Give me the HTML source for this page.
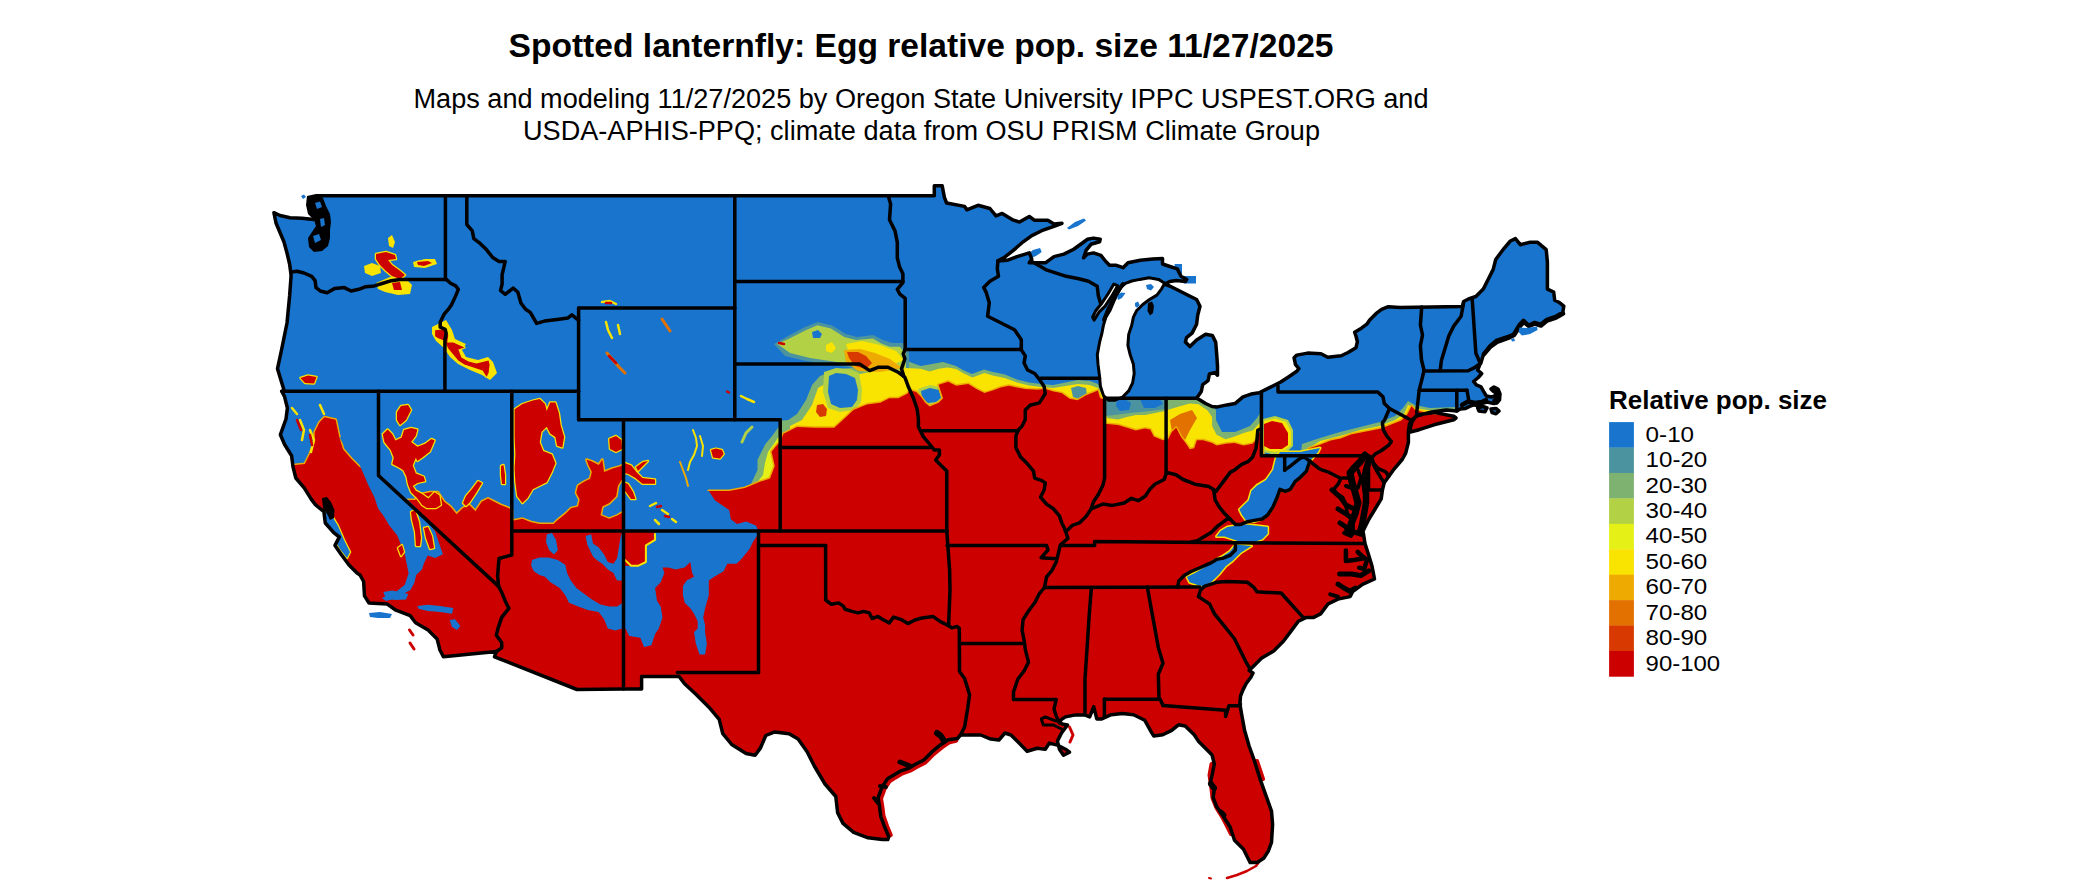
<!DOCTYPE html>
<html><head><meta charset="utf-8"><title>Spotted lanternfly</title>
<style>html,body{margin:0;padding:0;background:#fff;}svg{display:block;}</style>
</head><body>
<svg width="2100" height="892" viewBox="0 0 2100 892">
<rect width="2100" height="892" fill="#fff"/>
<text x="921" y="56.9" text-anchor="middle" font-family="'Liberation Sans', sans-serif" font-weight="bold" font-size="33" textLength="825" lengthAdjust="spacingAndGlyphs">Spotted lanternfly: Egg relative pop. size 11/27/2025</text>
<text x="921" y="108.1" text-anchor="middle" font-family="'Liberation Sans', sans-serif" font-size="27" textLength="1015" lengthAdjust="spacingAndGlyphs">Maps and modeling 11/27/2025 by Oregon State University IPPC USPEST.ORG and</text>
<text x="921.5" y="139.8" text-anchor="middle" font-family="'Liberation Sans', sans-serif" font-size="27" textLength="797" lengthAdjust="spacingAndGlyphs">USDA-APHIS-PPQ; climate data from OSU PRISM Climate Group</text>
<text x="1609" y="409" font-family="'Liberation Sans', sans-serif" font-weight="bold" font-size="26" textLength="218" lengthAdjust="spacingAndGlyphs">Relative pop. size</text>
<rect x="1609.1" y="422.10" width="24.8" height="25.73" fill="#1874cd"/>
<text x="1645.6" y="441.6" font-family="'Liberation Sans', sans-serif" font-size="21.3" textLength="48.5" lengthAdjust="spacingAndGlyphs">0-10</text>
<rect x="1609.1" y="447.53" width="24.8" height="25.73" fill="#4b939f"/>
<text x="1645.6" y="467.0" font-family="'Liberation Sans', sans-serif" font-size="21.3" textLength="61.7" lengthAdjust="spacingAndGlyphs">10-20</text>
<rect x="1609.1" y="472.96" width="24.8" height="25.73" fill="#7db271"/>
<text x="1645.6" y="492.5" font-family="'Liberation Sans', sans-serif" font-size="21.3" textLength="61.7" lengthAdjust="spacingAndGlyphs">20-30</text>
<rect x="1609.1" y="498.39" width="24.8" height="25.73" fill="#b2d144"/>
<text x="1645.6" y="517.9" font-family="'Liberation Sans', sans-serif" font-size="21.3" textLength="61.7" lengthAdjust="spacingAndGlyphs">30-40</text>
<rect x="1609.1" y="523.82" width="24.8" height="25.73" fill="#e5f017"/>
<text x="1645.6" y="543.3" font-family="'Liberation Sans', sans-serif" font-size="21.3" textLength="61.7" lengthAdjust="spacingAndGlyphs">40-50</text>
<rect x="1609.1" y="549.25" width="24.8" height="25.73" fill="#f9e300"/>
<text x="1645.6" y="568.8" font-family="'Liberation Sans', sans-serif" font-size="21.3" textLength="61.7" lengthAdjust="spacingAndGlyphs">50-60</text>
<rect x="1609.1" y="574.68" width="24.8" height="25.73" fill="#eeaa00"/>
<text x="1645.6" y="594.2" font-family="'Liberation Sans', sans-serif" font-size="21.3" textLength="61.7" lengthAdjust="spacingAndGlyphs">60-70</text>
<rect x="1609.1" y="600.11" width="24.8" height="25.73" fill="#e37100"/>
<text x="1645.6" y="619.6" font-family="'Liberation Sans', sans-serif" font-size="21.3" textLength="61.7" lengthAdjust="spacingAndGlyphs">70-80</text>
<rect x="1609.1" y="625.54" width="24.8" height="25.73" fill="#d83900"/>
<text x="1645.6" y="645.0" font-family="'Liberation Sans', sans-serif" font-size="21.3" textLength="61.7" lengthAdjust="spacingAndGlyphs">80-90</text>
<rect x="1609.1" y="650.97" width="24.8" height="25.73" fill="#cd0000"/>
<text x="1645.6" y="670.5" font-family="'Liberation Sans', sans-serif" font-size="21.3" textLength="74.5" lengthAdjust="spacingAndGlyphs">90-100</text>
<defs><clipPath id="land"><path d="M316.5,195.7 L934.3,195.7 L934.3,185.8 L942.2,185.8 L944.4,197.4 L946.6,203 L964.6,206.4 L966.8,209.8 L978,205.3 L989.9,208.5 L996,215.9 L1002.2,213.4 L1012.1,219.6 L1019.5,222.1 L1029.3,216.5 L1034.3,220.2 L1047.8,220.2 L1054,223.9 L1062,223.3 L1054,226.4 L1041.7,230.7 L1031.8,235.6 L1023.2,241.8 L1013.3,250.4 L1004.7,257.2 L997.9,260.9 L1007.1,260.3 L1017,256.6 L1029.3,252.9 L1031.8,259.1 L1029.3,262.8 L1036.7,262.8 L1045.4,262.8 L1054,256.6 L1063.9,254.1 L1073.7,249.2 L1082.4,243 L1087.3,239.3 L1093.5,238.1 L1100.2,239.3 L1099.6,241.8 L1091,244.3 L1086.1,250.4 L1083.6,257.8 L1087.3,254.1 L1093.5,252.9 L1100.9,255.4 L1105.8,261.5 L1109.5,265.2 L1115.7,265.2 L1123.1,267.7 L1128,262.8 L1140.3,260.3 L1152.6,259.1 L1162.5,258.4 L1162.5,264 L1169.9,266.5 L1177.3,268.9 L1181,276.3 L1186.7,279.5 L1185.4,281.5 L1176.4,280.4 L1169.7,281.5 L1164.5,284 L1169.7,286 L1178.7,290.5 L1187.6,295 L1196.6,299.5 L1200,306.2 L1197.7,315.2 L1196.6,324.2 L1192.1,333.1 L1186.5,337.6 L1185.4,342.1 L1189.9,346.6 L1196.6,339.9 L1205.6,334.3 L1212.3,335.4 L1215.7,342.1 L1216.8,355.6 L1217.5,366 L1217.5,375.3 L1214.8,372.6 L1209.4,374 L1208.1,380.7 L1202.7,384.7 L1201.3,391.5 L1196.6,398.2 L1200,400 L1205.6,403.5 L1212,406.5 L1217.5,406.9 L1226.9,404.9 L1235,403.6 L1243,396.8 L1251.1,394.1 L1259.2,392.8 L1270,387.4 L1280.7,382 L1288.8,376.7 L1296.8,371.3 L1298.9,368.6 L1295.5,364.6 L1294.1,357.8 L1296.8,355.1 L1307.6,353.1 L1321,353.8 L1327.8,357.2 L1341.2,355.8 L1348,352.5 L1356,347.7 L1357.4,341.7 L1356,336.3 L1354.7,332.3 L1361.4,328.2 L1366.8,324.2 L1369.5,320.2 L1376.2,313.4 L1381.6,309.4 L1388.3,306.7 L1400,307.4 L1462.4,306.4 L1463.6,301.5 L1468.5,299 L1475.9,296.5 L1483.3,289.1 L1489.5,276.8 L1493.2,269.4 L1495.7,259.5 L1503,249.7 L1510.4,241 L1515.4,238.6 L1520.3,244.7 L1530.2,242.3 L1537.6,242.3 L1546.2,249.7 L1547.4,262 L1547.4,289.1 L1553.7,292.1 L1554.7,300.2 L1558.8,302.2 L1563.8,306.2 L1562.8,312.3 L1555.7,316.3 L1546.7,319.3 L1540.6,324.4 L1534.6,322.4 L1528.5,325.4 L1523.5,320.3 L1519.4,324.4 L1513.4,334.5 L1508.3,336.5 L1496.2,340.5 L1490.2,345.6 L1483.1,355.6 L1480.9,363.1 L1480.3,363.4 L1477.7,370.1 L1481.7,373.5 L1478.3,377.5 L1473.6,381.5 L1476.3,384.9 L1481,386.9 L1483.7,391.6 L1486.4,396 L1491.1,397 L1495,396 L1496,393 L1493,391 L1491,389 L1494,387 L1498,389 L1500,394 L1499.5,400 L1497,403 L1493.8,403.5 L1487.1,402 L1481.7,403.5 L1477.7,405.7 L1473.6,404.8 L1469.6,406.4 L1465.6,408.4 L1460.2,409.1 L1456.8,411.1 L1446.3,410 L1431.5,412 L1416.7,416 L1411.8,419.8 L1409.4,424.2 L1408.4,431.7 L1408.4,442.4 L1405.7,453.2 L1402.2,459.5 L1397.7,464.8 L1393.2,470.2 L1388.7,476.5 L1384.2,482.8 L1382.4,490 L1381.2,498.9 L1375.1,509 L1369,519 L1365,527.1 L1363,531.2 L1364,537 L1365,543.6 L1368.5,554.5 L1372,566 L1374.5,579 L1362.5,584.3 L1352.6,591.7 L1350.2,596.6 L1337.9,599.1 L1328,604 L1320.6,613.9 L1313.2,617.6 L1305.8,617.6 L1298.4,621.3 L1291,631.1 L1283.6,641 L1273.7,650.9 L1261.4,658.3 L1254,665.7 L1249.1,670.6 L1253,673 L1250.9,677.2 L1246.2,683.5 L1243,689.9 L1240.5,696 L1239.9,704 L1241.5,713.5 L1244.6,730.4 L1249.1,746 L1254.7,761.7 L1260.3,779.7 L1265.9,795.4 L1271.5,811.1 L1272.6,824.5 L1271.5,842.5 L1268.2,851.4 L1263.7,858.2 L1256.9,862.6 L1250.2,862.6 L1248,858.2 L1243.5,849.2 L1239,844.7 L1234.5,840.2 L1230,826.8 L1225.6,820 L1222.2,814.4 L1216.6,806.6 L1213.2,797.6 L1214.3,788.7 L1209.9,784.2 L1212.1,775.2 L1214.3,764 L1212.1,755 L1205.4,748.3 L1198.7,741.6 L1194.2,734.8 L1185.2,725.9 L1178.5,724.8 L1171.7,730.4 L1162.8,734.8 L1153.8,736 L1151.6,732.6 L1144.8,720.3 L1133.6,714.7 L1122.4,713.5 L1111.2,714.7 L1101.8,718.9 L1096.8,718.9 L1093.7,706.8 L1089.7,716.9 L1084.7,714.9 L1075.6,714.9 L1065.5,716.9 L1059.4,720.9 L1062,724 L1067.5,725 L1061.5,733 L1057.4,741.1 L1059.4,749.2 L1063.5,755.2 L1069.5,752.2 L1065.5,749.2 L1057.4,745.1 L1049.3,743.1 L1045.3,749.2 L1037.2,748.2 L1027.1,751.2 L1019.1,743.1 L1011,735 L1004.9,733 L998.9,740.1 L990.8,739.1 L980.7,735 L968.6,735 L960.5,735 L957.5,738.5 L948.1,739.8 L940,745.2 L931.9,751.9 L923.8,760 L915.8,764 L909,768.1 L901,770.8 L894.2,774.8 L887.5,778.8 L882.1,786.9 L878.1,797.7 L879.4,805.8 L880.8,816.5 L884.8,827.3 L888.8,836.7 L887.8,839.6 L882.4,839.6 L868.1,837.8 L853.7,832.4 L843,823.4 L837.6,812.6 L835.8,796.5 L825,784 L814.3,766 L807.1,751.7 L798.1,739.1 L789.1,733.7 L774.8,731.9 L765.8,735.5 L760.4,748.1 L755.1,755.2 L746.1,753.5 L731.7,744.5 L722.8,733.7 L719.2,719.4 L710.2,708.6 L695.9,694.3 L684.6,683.7 L679.2,676.6 L677.4,676.6 L641.6,676.6 L641.6,689 L623.6,689 L577,689.5 L494.5,656.8 L496.3,651.5 L443.4,656.8 L439.8,649.7 L437.1,638.9 L428.1,630 L415.6,622.8 L410.2,615.6 L395.9,610.2 L386.9,603.9 L369,603 L364.5,595.9 L363.6,581.5 L360,575 L357.5,573.4 L349,565 L340.7,553.8 L335,545.4 L339.3,537 L333.7,532.7 L325.3,523 L323.9,511.7 L315.4,504.7 L311.2,499.1 L304.2,487.9 L295.8,478 L293,466.9 L291.6,455.7 L284.6,444.5 L280.4,434.7 L286,419 L287.4,408 L284.6,396.8 L281.8,391.2 L284,390 L281.5,382 L277.5,368.7 L281.5,350 L287,323 L289.6,296 L291,277 L291,274.5 L289.6,264 L287,253 L284,242 L276,223 L273.9,212.7 L280,215.5 L290,217.7 L302,218.3 L313.8,219.5 L316,210ZM1477.7,408 L1483,406.5 L1487,408 L1485,411.8 L1479,411ZM1491,409 L1496,408.4 L1499,411 L1496,413.8 L1492,412.5ZM1411.8,422.3 L1416.7,415 L1434,412.4 L1453.7,416.2 L1456,418 L1453.7,419.8 L1434,424.8 L1419.2,429.7 L1409.3,432.2Z"/></clipPath></defs>
<path d="M316.5,195.7 L934.3,195.7 L934.3,185.8 L942.2,185.8 L944.4,197.4 L946.6,203 L964.6,206.4 L966.8,209.8 L978,205.3 L989.9,208.5 L996,215.9 L1002.2,213.4 L1012.1,219.6 L1019.5,222.1 L1029.3,216.5 L1034.3,220.2 L1047.8,220.2 L1054,223.9 L1062,223.3 L1054,226.4 L1041.7,230.7 L1031.8,235.6 L1023.2,241.8 L1013.3,250.4 L1004.7,257.2 L997.9,260.9 L1007.1,260.3 L1017,256.6 L1029.3,252.9 L1031.8,259.1 L1029.3,262.8 L1036.7,262.8 L1045.4,262.8 L1054,256.6 L1063.9,254.1 L1073.7,249.2 L1082.4,243 L1087.3,239.3 L1093.5,238.1 L1100.2,239.3 L1099.6,241.8 L1091,244.3 L1086.1,250.4 L1083.6,257.8 L1087.3,254.1 L1093.5,252.9 L1100.9,255.4 L1105.8,261.5 L1109.5,265.2 L1115.7,265.2 L1123.1,267.7 L1128,262.8 L1140.3,260.3 L1152.6,259.1 L1162.5,258.4 L1162.5,264 L1169.9,266.5 L1177.3,268.9 L1181,276.3 L1186.7,279.5 L1185.4,281.5 L1176.4,280.4 L1169.7,281.5 L1164.5,284 L1169.7,286 L1178.7,290.5 L1187.6,295 L1196.6,299.5 L1200,306.2 L1197.7,315.2 L1196.6,324.2 L1192.1,333.1 L1186.5,337.6 L1185.4,342.1 L1189.9,346.6 L1196.6,339.9 L1205.6,334.3 L1212.3,335.4 L1215.7,342.1 L1216.8,355.6 L1217.5,366 L1217.5,375.3 L1214.8,372.6 L1209.4,374 L1208.1,380.7 L1202.7,384.7 L1201.3,391.5 L1196.6,398.2 L1200,400 L1205.6,403.5 L1212,406.5 L1217.5,406.9 L1226.9,404.9 L1235,403.6 L1243,396.8 L1251.1,394.1 L1259.2,392.8 L1270,387.4 L1280.7,382 L1288.8,376.7 L1296.8,371.3 L1298.9,368.6 L1295.5,364.6 L1294.1,357.8 L1296.8,355.1 L1307.6,353.1 L1321,353.8 L1327.8,357.2 L1341.2,355.8 L1348,352.5 L1356,347.7 L1357.4,341.7 L1356,336.3 L1354.7,332.3 L1361.4,328.2 L1366.8,324.2 L1369.5,320.2 L1376.2,313.4 L1381.6,309.4 L1388.3,306.7 L1400,307.4 L1462.4,306.4 L1463.6,301.5 L1468.5,299 L1475.9,296.5 L1483.3,289.1 L1489.5,276.8 L1493.2,269.4 L1495.7,259.5 L1503,249.7 L1510.4,241 L1515.4,238.6 L1520.3,244.7 L1530.2,242.3 L1537.6,242.3 L1546.2,249.7 L1547.4,262 L1547.4,289.1 L1553.7,292.1 L1554.7,300.2 L1558.8,302.2 L1563.8,306.2 L1562.8,312.3 L1555.7,316.3 L1546.7,319.3 L1540.6,324.4 L1534.6,322.4 L1528.5,325.4 L1523.5,320.3 L1519.4,324.4 L1513.4,334.5 L1508.3,336.5 L1496.2,340.5 L1490.2,345.6 L1483.1,355.6 L1480.9,363.1 L1480.3,363.4 L1477.7,370.1 L1481.7,373.5 L1478.3,377.5 L1473.6,381.5 L1476.3,384.9 L1481,386.9 L1483.7,391.6 L1486.4,396 L1491.1,397 L1495,396 L1496,393 L1493,391 L1491,389 L1494,387 L1498,389 L1500,394 L1499.5,400 L1497,403 L1493.8,403.5 L1487.1,402 L1481.7,403.5 L1477.7,405.7 L1473.6,404.8 L1469.6,406.4 L1465.6,408.4 L1460.2,409.1 L1456.8,411.1 L1446.3,410 L1431.5,412 L1416.7,416 L1411.8,419.8 L1409.4,424.2 L1408.4,431.7 L1408.4,442.4 L1405.7,453.2 L1402.2,459.5 L1397.7,464.8 L1393.2,470.2 L1388.7,476.5 L1384.2,482.8 L1382.4,490 L1381.2,498.9 L1375.1,509 L1369,519 L1365,527.1 L1363,531.2 L1364,537 L1365,543.6 L1368.5,554.5 L1372,566 L1374.5,579 L1362.5,584.3 L1352.6,591.7 L1350.2,596.6 L1337.9,599.1 L1328,604 L1320.6,613.9 L1313.2,617.6 L1305.8,617.6 L1298.4,621.3 L1291,631.1 L1283.6,641 L1273.7,650.9 L1261.4,658.3 L1254,665.7 L1249.1,670.6 L1253,673 L1250.9,677.2 L1246.2,683.5 L1243,689.9 L1240.5,696 L1239.9,704 L1241.5,713.5 L1244.6,730.4 L1249.1,746 L1254.7,761.7 L1260.3,779.7 L1265.9,795.4 L1271.5,811.1 L1272.6,824.5 L1271.5,842.5 L1268.2,851.4 L1263.7,858.2 L1256.9,862.6 L1250.2,862.6 L1248,858.2 L1243.5,849.2 L1239,844.7 L1234.5,840.2 L1230,826.8 L1225.6,820 L1222.2,814.4 L1216.6,806.6 L1213.2,797.6 L1214.3,788.7 L1209.9,784.2 L1212.1,775.2 L1214.3,764 L1212.1,755 L1205.4,748.3 L1198.7,741.6 L1194.2,734.8 L1185.2,725.9 L1178.5,724.8 L1171.7,730.4 L1162.8,734.8 L1153.8,736 L1151.6,732.6 L1144.8,720.3 L1133.6,714.7 L1122.4,713.5 L1111.2,714.7 L1101.8,718.9 L1096.8,718.9 L1093.7,706.8 L1089.7,716.9 L1084.7,714.9 L1075.6,714.9 L1065.5,716.9 L1059.4,720.9 L1062,724 L1067.5,725 L1061.5,733 L1057.4,741.1 L1059.4,749.2 L1063.5,755.2 L1069.5,752.2 L1065.5,749.2 L1057.4,745.1 L1049.3,743.1 L1045.3,749.2 L1037.2,748.2 L1027.1,751.2 L1019.1,743.1 L1011,735 L1004.9,733 L998.9,740.1 L990.8,739.1 L980.7,735 L968.6,735 L960.5,735 L957.5,738.5 L948.1,739.8 L940,745.2 L931.9,751.9 L923.8,760 L915.8,764 L909,768.1 L901,770.8 L894.2,774.8 L887.5,778.8 L882.1,786.9 L878.1,797.7 L879.4,805.8 L880.8,816.5 L884.8,827.3 L888.8,836.7 L887.8,839.6 L882.4,839.6 L868.1,837.8 L853.7,832.4 L843,823.4 L837.6,812.6 L835.8,796.5 L825,784 L814.3,766 L807.1,751.7 L798.1,739.1 L789.1,733.7 L774.8,731.9 L765.8,735.5 L760.4,748.1 L755.1,755.2 L746.1,753.5 L731.7,744.5 L722.8,733.7 L719.2,719.4 L710.2,708.6 L695.9,694.3 L684.6,683.7 L679.2,676.6 L677.4,676.6 L641.6,676.6 L641.6,689 L623.6,689 L577,689.5 L494.5,656.8 L496.3,651.5 L443.4,656.8 L439.8,649.7 L437.1,638.9 L428.1,630 L415.6,622.8 L410.2,615.6 L395.9,610.2 L386.9,603.9 L369,603 L364.5,595.9 L363.6,581.5 L360,575 L357.5,573.4 L349,565 L340.7,553.8 L335,545.4 L339.3,537 L333.7,532.7 L325.3,523 L323.9,511.7 L315.4,504.7 L311.2,499.1 L304.2,487.9 L295.8,478 L293,466.9 L291.6,455.7 L284.6,444.5 L280.4,434.7 L286,419 L287.4,408 L284.6,396.8 L281.8,391.2 L284,390 L281.5,382 L277.5,368.7 L281.5,350 L287,323 L289.6,296 L291,277 L291,274.5 L289.6,264 L287,253 L284,242 L276,223 L273.9,212.7 L280,215.5 L290,217.7 L302,218.3 L313.8,219.5 L316,210ZM1477.7,408 L1483,406.5 L1487,408 L1485,411.8 L1479,411ZM1491,409 L1496,408.4 L1499,411 L1496,413.8 L1492,412.5ZM1411.8,422.3 L1416.7,415 L1434,412.4 L1453.7,416.2 L1456,418 L1453.7,419.8 L1434,424.8 L1419.2,429.7 L1409.3,432.2Z" fill="#1874cd"/>
<g clip-path="url(#land)">
<polygon points="760,500 776,448 781,425 797,414 806,400 812,385 820,376 835,370 850,368 865,366 880,362 898,358 908.2,361.5 920.7,366 943,362 956,366 963,370 972,374 984,369.5 993,372 1005,374.5 1017,379.5 1029,382.5 1041,384 1053,385 1065.5,382.5 1077.6,380 1090,381 1098,384 1104,397 1166,397 1185,400 1200,400 1210,405 1216,410 1216,420 1222,432 1235,432 1250,426 1257,418 1262,410 1266,460 1300,460 1302,444 1320,438 1340,432 1360,427 1380,422 1395,416 1403,408 1408,401 1415,405 1430,408 1456,407 1460,470 760,520" fill="#7db271"/>
<polygon points="774,344 788,336 805,327 818,322 832,325.5 846,334 857,337 873,335 883,340 892,343 903,343 909,352 909,374 888,375 868,371 848,367 828,364 806,361 785,356" fill="#4b939f"/>
<polygon points="777,343.7 788.9,338.7 805.7,330.3 817.4,325.2 830.9,328.6 844.3,337 856.1,340 872.9,338.4 881.3,343.4 889.7,346.8 899.8,346.8 906,354 906,372 890,372 870,368 850,364 830,361 810,358 790,353" fill="#b2d144"/>
<polygon points="812,332 818,330 822,334 820,338 813,338" fill="#1874cd"/>
<polygon points="846,344 862,341 880,345 896,351 904,360 890,366 870,362 850,356" fill="#f9e300"/>
<polygon points="826,345 832,342 836,348 832,353 826,351" fill="#f9e300"/>
<polygon points="765,500 778,445 786,428 802,420 812,405 818,388 830,381 850,376 870,372 885,370 895,372 906,368 920.7,368.7 929.7,371.4 938.7,368.7 947.6,367.5 956.2,369 963,373 972.4,377.5 984.5,373 992.6,375.5 1004.8,378 1016.9,382.5 1029,385.5 1041,387 1053.4,388 1065.5,386 1077.6,384 1089.8,385 1097.9,388 1104,398 1107,418 1117.9,419.6 1126.9,416.9 1135.9,415.1 1144.8,415.1 1153.8,413.3 1162.8,411.5 1168.2,409.7 1180.7,406.1 1189.7,403.5 1198.7,404.3 1207.6,410.6 1212.1,416.9 1212.1,425.9 1216.6,434.8 1225.6,439.3 1234.5,436.6 1243.5,433 1252.5,430.4 1257,425.9 1262,420 1264,459 1304,459 1306,450 1320,441 1340,436 1360,430 1380,426 1395,420 1404,414 1408,405 1415,408 1430,410.5 1456,409.5 1460,470 765,520" fill="#f9e300"/>
<polygon points="750,486 757.5,470 757.5,459.7 765.4,444 772,436 777.9,428 781,420.4 790,420 790,480" fill="#7db271"/>
<polygon points="756,484 763,475 765,463 768,452 773,445 778.5,437 790,436 790,480" fill="#e5f017"/>
<polygon points="1106,398 1166,398 1166,409 1150,411 1130,413 1115,415 1106,416" fill="#4b939f"/>
<polygon points="1117,400 1125,399 1131,403 1129,410 1120,411 1116,406" fill="#1874cd"/>
<polygon points="1140,399 1160,399 1163,404 1155,408 1144,408" fill="#1874cd"/>
<polygon points="918,389 930,385 941,387 945,397 938,405 927,406 919,400" fill="#b2d144"/>
<polygon points="1071,388 1078,386 1086,388 1087,395 1080,399.5 1073,397" fill="#4b939f"/>
<polygon points="921,391 930,388 939,390 941,398 936,402 928,403 922,398" fill="#1874cd"/>
<polygon points="844,350 860,349 875,353 890,359 902,368 880,372 858,371 846,362" fill="#eeaa00"/>
<polygon points="847,352 858,352 866,356 872,363 866,369 855,366 849,358" fill="#d83900"/>
<polygon points="824,372 836,368 850,369 859,373 862,390 861,402 855,410 840,412 828,408 823,392" fill="#b2d144"/>
<polygon points="1170,420 1180,414 1192,410 1197,418 1190,430 1185,440 1178,432 1172,432" fill="#e37100"/>
<polygon points="829,376 836,373 846,374 855,378 858,390 857,400 852,407 840,408 831,404 828,392" fill="#1874cd"/>
<polygon points="817,405 823,404 827,409 826,416 820,417 816,412" fill="#d83900"/>
<polygon points="250,470 304.8,464.1 309.7,454.3 314.7,441.9 314.7,432.1 319.6,422.2 324.5,417.3 335.6,419.7 339.3,437 343,449.3 351.7,459.2 359,466.6 378,480 400,500 415,500 422,494 430,492.3 437.8,492.3 444.1,501.7 450.3,506.4 456.6,514.3 462.9,508 469.2,504.9 475.5,511.2 481.7,501.7 488,498.6 494.3,501.7 500.6,504.9 508.4,508 512,510 512,520 513.7,520.5 522.4,518.8 531.1,522.2 539.7,524 553.6,524 557.1,520.5 565.8,513.5 571,508.3 578,506.6 579.7,499.6 576.2,492.7 578,485.7 583.2,482.3 590.1,478.8 591.9,471.9 588.4,464.9 586.6,459.7 591.9,461.4 598.8,464.9 602.3,459.7 604,471.9 612.7,468.4 619.6,466.6 623.5,464.9 623.5,477 617.9,485.7 616.2,496.2 609.2,503.1 602.3,506.6 600.5,515.3 609.2,518.8 617.9,515.3 623.5,511.8 623.5,532 710,532 710,497 708.8,491 713.5,491 729.2,491 744.9,487.9 760.6,481.6 770,478.5 774.8,465.9 771.6,451.8 777.9,444 779.8,443 783.5,433.8 797,427.1 814.1,427.8 834.3,427.8 845,418 853.5,410 866.9,404.6 880.4,402.8 889.3,398.3 898.3,398.3 907.3,393.8 910,390.2 916.2,392 920.7,396.5 925.2,402.8 929.7,406.4 938.7,402.8 943.1,398.3 940.4,390.2 938.7,384.8 948.1,381.7 956.2,385.8 968.3,384.1 976.4,389 984.5,393.1 992.6,390.6 1000.7,387.4 1008.8,385.8 1016.9,387.4 1025,389 1037.2,389.8 1045.3,389 1053.4,391.4 1061.5,393.1 1069.6,398.7 1077.6,400.3 1085.7,395.5 1093.8,392.2 1097.9,390.6 1100,398 1104.6,400 1104.6,424 1107.2,424.1 1117.9,425 1126.9,427.7 1135.9,430.4 1144.8,428.6 1150.2,429.5 1153.8,436.6 1162.8,440.2 1168.2,439.3 1171.7,432.2 1176.2,427.7 1180.7,436.6 1186.1,443.8 1189.7,449.2 1194.2,448.3 1196.9,440.2 1203.1,440.2 1212.1,442.9 1216.6,445.6 1225.6,443.8 1234.5,442.9 1243.5,445.6 1252.5,443.8 1257,439.3 1259.6,432.4 1262,430 1263,457 1306,457 1308.6,448.6 1320.7,444.6 1330.8,440.5 1340.9,438.5 1351,434.5 1361,432.5 1371.2,430.4 1381.2,428.4 1391.3,424.4 1401.4,420.4 1407.5,414.3 1411.5,406.2 1415,410 1430,414 1456,416 1460,422 1600,440 1600,900 250,900" fill="#cd0000" stroke="#eeaa00" stroke-width="3" stroke-linejoin="round" paint-order="stroke"/>
<polygon points="1263,419 1275,416 1288,420 1293,430 1293,446 1287,452 1275,455 1264,452" fill="#b2d144"/>
<polygon points="1264,421 1275,418.5 1286,422 1291,431 1291,445 1285,450 1275,452 1265,450" fill="#f9e300"/>
<polygon points="1264,424 1272,421 1282,423 1288,433 1288,445 1282,449 1270,449 1264,446" fill="#cd0000"/>
<polygon points="325,512 332,516 338,526 344,540 350,552 347,558 340,549 333,537 327,526" fill="#1874cd" stroke="#f9e300" stroke-width="2.5" stroke-linejoin="round" paint-order="stroke"/>
<polygon points="339.3,437 347.6,451.4 357.1,459 362.9,472.4 368.6,485.7 374.3,497.1 378.1,508.6 383.8,516.2 389.5,525.7 397.1,535.2 401,544.8 404.8,554.3 406.7,563.8 408.6,573.3 404.8,584.8 395.2,592.4 385.7,596.2 381.9,598.1 386,601 397.1,598 402.9,594 410.5,590 414.3,583 416.2,575 421.9,569.5 423.8,563.8 427.6,555.5 435.2,558.1 442.9,554.3 439,542.9 435.2,531.4 428,522 420,512 400,492 378.1,474 370,462 350,440" fill="#1874cd"/>
<polygon points="532,560.1 539.4,557.4 548.6,557.4 557.9,560.1 565.3,564.8 567.1,573.1 570.8,580.5 576.4,587.9 583.8,593.4 591.2,599 600.4,604.5 609.7,606.4 617.1,606.4 622.6,602.7 624,602.7 624,628.6 622.6,628.6 615.2,630.4 607.8,628.6 604.1,619.3 598.6,611.9 587.5,610.1 578.2,606.4 569,602.7 565.3,595.3 559.7,587.9 550.5,582.3 544.9,576.8 539.4,574.9 533.8,571.2 531.1,565.7" fill="#1874cd"/>
<polygon points="585.6,536.1 591.2,534.2 593,543.5 598.6,547.2 604.1,554.6 607.8,562 613.4,563.8 617.1,558.3 620.8,536.1 622.6,532 624,532 624,580.5 617.1,580.5 613.4,573.1 607.8,569.4 602.3,563.8 596.7,560.1 593,556.4 587.5,545.3" fill="#1874cd"/>
<polygon points="546.8,534.2 552,533 556,540 557.9,550 554,554.6 549,550 546,542" fill="#1874cd"/>
<polygon points="655,497 708.8,491 715.1,500.5 729.2,509.9 730.8,519.3 737.1,524 746.1,521.5 755.9,525.6 758.8,531.3 756.9,536.1 753.2,541.6 749.5,549 742.1,558.3 736.5,563.8 727.3,563.8 723.6,571.2 714.3,576.8 708.8,580.5 708.8,595.3 705.1,608.2 703.2,617.5 705.1,624.9 705.1,632.3 706.9,643.4 705.1,654.5 699.5,654.5 695.8,643.4 694,632.3 697.7,628.6 697.7,621.2 694,613.8 690.3,608.2 684.7,602.7 682.9,595.3 682.9,586 686.6,580.5 694,576.8 692.1,573.1 690.3,562 684.7,567.5 675.5,569.4 668.1,567.5 662.5,567.5 664.4,573.1 660.7,582.3 655.1,587.9 657,600.8 660.7,606.4 662.5,617.5 658.8,628.6 655.1,634.1 651.4,645.2 644,647.1 640.3,637.8 629.2,636 625.5,628.6 623,628.6 623,566 631.1,565.7 638.5,565.7 645.9,562 645.9,545.3 655.1,539.8 653.3,536.1 655,532" fill="#1874cd"/>
<polygon points="383.3,592 392,590.5 400,592 408.4,594 406,599.5 396,600 386,599" fill="#1874cd"/>
<polygon points="417.4,606 428,604.8 440,606 453.3,608 452,613.8 440,612 428,611 419,609" fill="#1874cd"/>
<polygon points="449.7,620 455,619.2 460.4,626 457,630 452,627" fill="#1874cd"/>
<polygon points="1320,448 1300,452 1280,452 1276,458 1273,470 1266,480 1257,485.4 1251.5,490.8 1248.8,500.2 1243.4,505.6 1239.4,509.6 1242.1,515 1246.1,520.4 1254.2,521.7 1262.3,519 1267.7,515 1273,506.9 1277.1,497.5 1280,489.4 1285.2,491.4 1290.3,489.4 1295.3,481.3 1300.4,477.3 1306.4,471.2 1308.4,465.2 1310,461 1318,452" fill="#1874cd" stroke="#f9e300" stroke-width="3" stroke-linejoin="round" paint-order="stroke"/>
<polygon points="1227.3,527.1 1235.4,525.8 1246.1,524.4 1256.9,525.8 1267.7,527.1 1267.7,533.8 1262.3,539.2 1254.2,541.9 1240.8,541.9 1232.7,539.2 1224.6,536.5 1216.5,536.5 1220.6,531.1" fill="#1874cd" stroke="#f9e300" stroke-width="3" stroke-linejoin="round" paint-order="stroke"/>
<polygon points="1235.4,544.6 1251.5,546 1240.8,552.7 1232.7,560.8 1225.9,566.1 1219.2,574.2 1211.1,582.3 1203.1,586.3 1197.7,585 1189.6,582.3 1186.9,576.9 1195,572.9 1204.4,567.5 1213.8,560.8 1221.9,556.7 1230,551.3" fill="#1874cd" stroke="#f9e300" stroke-width="3" stroke-linejoin="round" paint-order="stroke"/>
<polygon points="364,266 372,263 380,266 381,273 372,276 365,273" fill="#f9e300"/>
<polygon points="413,262 425,259 435,259 437,264 425,268 414,267" fill="#f9e300"/>
<polygon points="432,327 446,320 452,330 455,339 466,344 462,350 466,357 478,360 488,357 493,362 497,373 490,380 482,375 470,370 458,364 450,357 444,348 436,341 432,334" fill="#f9e300"/>
<polygon points="376,283 390,277 405,278 412,285 410,294 398,295 385,292 378,289" fill="#f9e300"/>
<polygon points="388,238 392,235 395,242 393,248 389,246" fill="#f9e300"/>
<polygon points="623,534 627.4,536.1 638.5,534.2 653.3,536.1 655.1,539.8 645.9,545.3 645.9,562 638.5,565.7 631.1,565.7 627.4,558.3 623,550" fill="#cd0000"/>
<polyline points="655,534 655.1,539.8 645.9,545.3 645.9,562 638.5,565.7 631.1,565.7 625,560" fill="none" stroke="#f9e300" stroke-width="2" stroke-linejoin="round" stroke-linecap="round"/>
<polyline points="650,506 656,503" fill="none" stroke="#f9e300" stroke-width="2.5" stroke-linejoin="round" stroke-linecap="round"/>
<polyline points="662,510 668,514" fill="none" stroke="#f9e300" stroke-width="2.5" stroke-linejoin="round" stroke-linecap="round"/>
<polyline points="672,519 676,522" fill="none" stroke="#f9e300" stroke-width="2.5" stroke-linejoin="round" stroke-linecap="round"/>
<polyline points="655,520 659,524" fill="none" stroke="#f9e300" stroke-width="2.5" stroke-linejoin="round" stroke-linecap="round"/>
<polyline points="657,507 661,506" fill="none" stroke="#cd0000" stroke-width="2.5" stroke-linejoin="round" stroke-linecap="round"/>
<polyline points="665,516 669,517" fill="none" stroke="#cd0000" stroke-width="2.5" stroke-linejoin="round" stroke-linecap="round"/>
<polyline points="693,430 696,438 697,446 694,455 690,462 688,470" fill="none" stroke="#f9e300" stroke-width="2" stroke-linejoin="round" stroke-linecap="round"/>
<polyline points="700,436 703,446 702,456" fill="none" stroke="#f9e300" stroke-width="2" stroke-linejoin="round" stroke-linecap="round"/>
<polyline points="680,462 683,470 686,478 688,486" fill="none" stroke="#eeaa00" stroke-width="2" stroke-linejoin="round" stroke-linecap="round"/>
<polyline points="742,442 746,433 752,427" fill="none" stroke="#b2d144" stroke-width="3" stroke-linejoin="round" stroke-linecap="round"/>
<polyline points="602,302 610,301 616,304" fill="none" stroke="#f9e300" stroke-width="2.5" stroke-linejoin="round" stroke-linecap="round"/>
<polyline points="606,322 608,330 612,338" fill="none" stroke="#f9e300" stroke-width="2.5" stroke-linejoin="round" stroke-linecap="round"/>
<polyline points="618,325 620,334" fill="none" stroke="#f9e300" stroke-width="2.5" stroke-linejoin="round" stroke-linecap="round"/>
<polyline points="741,396 747,399 754,402" fill="none" stroke="#f9e300" stroke-width="2.5" stroke-linejoin="round" stroke-linecap="round"/>
<polyline points="300,420 304,430 302,440" fill="none" stroke="#f9e300" stroke-width="2.5" stroke-linejoin="round" stroke-linecap="round"/>
<polyline points="292,408 297,414" fill="none" stroke="#f9e300" stroke-width="2.5" stroke-linejoin="round" stroke-linecap="round"/>
<polyline points="310,430 314,440 311,452" fill="none" stroke="#f9e300" stroke-width="2.5" stroke-linejoin="round" stroke-linecap="round"/>
<polyline points="320,405 324,414" fill="none" stroke="#f9e300" stroke-width="2.5" stroke-linejoin="round" stroke-linecap="round"/>
<polyline points="607,353 613,360 619,367 625,373" fill="none" stroke="#e37100" stroke-width="3" stroke-linejoin="round" stroke-linecap="round"/>
<polyline points="662,319 666,325 670,331" fill="none" stroke="#e37100" stroke-width="3" stroke-linejoin="round" stroke-linecap="round"/>
<polyline points="606,303 611,303" fill="none" stroke="#cd0000" stroke-width="2.5" stroke-linejoin="round" stroke-linecap="round"/>
<polyline points="609,356 616,363" fill="none" stroke="#cd0000" stroke-width="2.5" stroke-linejoin="round" stroke-linecap="round"/>
<polyline points="779,343 784,344" fill="none" stroke="#cd0000" stroke-width="2.5" stroke-linejoin="round" stroke-linecap="round"/>
<polyline points="727,391.5 729,392.5" fill="none" stroke="#cd0000" stroke-width="2.5" stroke-linejoin="round" stroke-linecap="round"/>
<polyline points="297,420 301,430" fill="none" stroke="#cd0000" stroke-width="2.5" stroke-linejoin="round" stroke-linecap="round"/>
<polyline points="310,435 312,445" fill="none" stroke="#cd0000" stroke-width="2.5" stroke-linejoin="round" stroke-linecap="round"/>
<polygon points="514.6,409.3 522.4,404.1 532.8,400.6 539.7,398.9 545,404.1 546.7,411.1 550.2,402.4 555.4,402.4 558.8,412.8 560.6,425 564.1,437.1 562.3,447.5 557.1,445.8 555.4,437.1 550.2,433.6 546.7,426.7 541.5,431.9 539.7,442.3 543.2,451 551.9,454.5 555.4,463.2 551.9,471.9 546.7,482.3 539.7,485.7 532.8,489.2 527.6,497.9 522.4,503.1 517.2,496.2 515.4,482.3 514.6,468.4 515.4,454.5 514.6,437.1 514.6,419.7" fill="#cd0000" stroke="#f9e300" stroke-width="2.5" stroke-linejoin="round" paint-order="stroke"/>
<polygon points="609.2,438.8 616,436 621.4,440 622,449 616,452 610,449" fill="#cd0000" stroke="#f9e300" stroke-width="2.5" stroke-linejoin="round" paint-order="stroke"/>
<polygon points="711,450 716,448.6 722,450 723.7,454 720,458.4 713,457.5" fill="#cd0000" stroke="#f9e300" stroke-width="2.5" stroke-linejoin="round" paint-order="stroke"/>
<polygon points="395.4,440.5 401.7,437.4 404,430 411.1,428 417.4,429.5 415.8,435.8 411.1,442.1 417.4,446.8 425.2,443.7 431.5,439 434.6,440.5 430,451.5 422.1,457.8 417.4,460.9 415.8,457.8 412.7,465.6 415.8,473.5 423.7,476.6 425.2,481.3 417.4,482.9 412.7,486 415.8,490.7 422.1,493.9 428.4,498.6 434.6,492.3 439.4,495.5 440.9,504.9 436,508 426.8,508 422.1,504.9 417.4,498.6 411.1,492.3 408,484.5 406.4,476.6 403.3,470.3 398.5,467.2 392.3,464.1 393.8,457.8 390.7,449.9 384.4,442.1 382.8,434.2 387.6,429.5 392.3,434.2" fill="#cd0000" stroke="#f9e300" stroke-width="2.5" stroke-linejoin="round" paint-order="stroke"/>
<polygon points="376,254 386,252 395,255 396,259 388,260 392,265 399,270 405,275 400,279 392,276 386,271 380,265 376,259" fill="#cd0000" stroke="#f9e300" stroke-width="2.5" stroke-linejoin="round" paint-order="stroke"/>
<polygon points="417,262 428,261 432,263 424,266 418,265" fill="#cd0000" stroke="#f9e300" stroke-width="2.5" stroke-linejoin="round" paint-order="stroke"/>
<polygon points="392,283 400,282 402,290 394,290" fill="#cd0000" stroke="#f9e300" stroke-width="2.5" stroke-linejoin="round" paint-order="stroke"/>
<polygon points="435.1,330.3 444.2,329.3 448.3,335.3 447.2,342.4 453.3,342.4 464.4,347.4 458.3,349.4 461.4,357.5 468.4,361.6 476.5,363.6 488.6,360.5 489.6,364.6 488.6,372.7 486.6,376.7 482.6,370.6 476.5,368.6 470.5,366.6 464.4,364.6 458.3,360.5 453.3,354.5 448.3,348.4 446.2,344.4 444.2,340.4 438.2,338.3 435.1,336.3" fill="#cd0000" stroke="#f9e300" stroke-width="2.5" stroke-linejoin="round" paint-order="stroke"/>
<polygon points="300.4,378 308,375.4 316.5,377 314,383.5 305,383" fill="#cd0000" stroke="#f9e300" stroke-width="2.5" stroke-linejoin="round" paint-order="stroke"/>
<polygon points="624,462.7 631.2,465.5 636.8,472.5 642.4,478.1 655,479.5 655,483.7 642.4,483.7 635.4,478.1 628.4,473.9 624,473" fill="#cd0000" stroke="#f9e300" stroke-width="2.5" stroke-linejoin="round" paint-order="stroke"/>
<polygon points="624,482.3 628,484 633,492 635.4,499.1 631,499 626,492 624,490" fill="#cd0000" stroke="#f9e300" stroke-width="2.5" stroke-linejoin="round" paint-order="stroke"/>
<polygon points="636,467 643,462 648,461 641,468 638,471" fill="#cd0000" stroke="#f9e300" stroke-width="2.5" stroke-linejoin="round" paint-order="stroke"/>
<polygon points="397,412 401,406 408,405 411,410 406,420 400,425 397,420" fill="#cd0000" stroke="#f9e300" stroke-width="2.5" stroke-linejoin="round" paint-order="stroke"/>
<polygon points="463,503 466,496 472,489 478,481 482,483 476,493 470,502 466,506" fill="#cd0000" stroke="#f9e300" stroke-width="2.5" stroke-linejoin="round" paint-order="stroke"/>
<polygon points="501,466 503.5,465 505,475 505,484 502,484 501,475" fill="#cd0000" stroke="#f9e300" stroke-width="2.5" stroke-linejoin="round" paint-order="stroke"/>
<polygon points="411,512 415,510 419,522 421,538 420,546 416,546 415,532 412,520" fill="#cd0000" stroke="#f9e300" stroke-width="2.5" stroke-linejoin="round" paint-order="stroke"/>
<polygon points="424,528 428,527 432,536 434,548 430,549 426,538" fill="#cd0000" stroke="#f9e300" stroke-width="2.5" stroke-linejoin="round" paint-order="stroke"/>
<polygon points="398,548 402,545 404,552 401,556" fill="#cd0000" stroke="#f9e300" stroke-width="2.5" stroke-linejoin="round" paint-order="stroke"/>
</g>
<polyline points="1211.5,764 1209.5,775 1211.5,789 1212.5,798 1216.5,808 1222.5,817.5 1226.5,825 1231,834" fill="none" stroke="#cd0000" stroke-width="4" stroke-linecap="round" stroke-linejoin="round"/>
<polyline points="1257,761 1260,770 1263,779" fill="none" stroke="#cd0000" stroke-width="4" stroke-linecap="round" stroke-linejoin="round"/>
<polyline points="1069.5,727 1073,735 1070,742" fill="none" stroke="#cd0000" stroke-width="3" stroke-linecap="round" stroke-linejoin="round"/>
<polyline points="956,740.5 949.5,742 941.5,747.5 933.5,754 925,762.5 917,766.5 910,770.5 902,773.3 895.5,777.2 889.5,781 884.5,788.5 880.8,798.5 882,806 883.3,816 887,826.5 890.5,835" fill="none" stroke="#cd0000" stroke-width="4.5" stroke-linecap="round" stroke-linejoin="round"/>
<polyline points="409.5,630 413,635" fill="none" stroke="#cd0000" stroke-width="3" stroke-linecap="round" stroke-linejoin="round"/>
<polyline points="410,643 414,649" fill="none" stroke="#cd0000" stroke-width="3" stroke-linecap="round" stroke-linejoin="round"/>
<polyline points="382,614.5 387,615" fill="none" stroke="#cd0000" stroke-width="2" stroke-linecap="round" stroke-linejoin="round"/>
<polyline points="1262,858 1256,866 1247,871 1237,875 1227,878" fill="none" stroke="#cd0000" stroke-width="2.5" stroke-linecap="round" stroke-linejoin="round"/>
<polyline points="1209,878 1211,878.5" fill="none" stroke="#cd0000" stroke-width="2" stroke-linecap="round" stroke-linejoin="round"/>
<polygon points="1108.3,400.3 1103.5,395.6 1100.4,386.2 1099.6,376.8 1098,364.2 1097.3,354.8 1099.6,342.2 1102,332.8 1103.5,325 1105.9,317.1 1109.8,310.8 1113.8,301.4 1117.7,293.5 1120.8,287.3 1125.5,283.3 1131.8,281 1139.7,279.4 1149.1,277.8 1158.5,279.4 1164.8,283.3 1161.6,288.8 1156.9,295.1 1149.1,299.8 1142.8,304.5 1136.5,310.8 1133.4,317.1 1131.8,325 1128.7,334.4 1127.9,345.4 1130.2,354.8 1133.4,364.2 1134.2,373.6 1132.6,383 1128.7,390.9 1122.4,397.2 1114.5,400.3" fill="#fff" stroke="#000" stroke-width="3" stroke-linejoin="round"/>
<polygon points="1094.1,320.2 1098.8,312.4 1105.1,306.1 1111.4,296.7 1117.7,285.7 1113.8,284.1 1108.3,293.5 1102,303 1095.7,310.8 1092.6,317.1" fill="#fff" stroke="#000" stroke-width="3" stroke-linejoin="round"/>
<polygon points="1174.6,264 1182,264 1182,276 1196,276 1196,283.5 1184,283.5 1180,278 1175,272" fill="#1874cd"/>
<polygon points="369,613 380,612 392,614 390,618 378,618 370,617" fill="#1874cd"/>
<polygon points="1067,228 1075,222 1084,218.4 1086,220.5 1078,226 1069,229.5" fill="#1874cd"/>
<polygon points="1028,254 1033,250 1040,248 1041.7,252 1036,256 1031,258" fill="#1874cd"/>
<polygon points="1146,285 1151,284 1154,287 1151,290.4 1147,289" fill="#1874cd"/>
<polygon points="1135,303 1138,301.4 1139.7,305 1137,307.7 1135,306" fill="#1874cd"/>
<polygon points="1117,296 1121,292.5 1125.5,293 1122,298 1118,300" fill="#1874cd"/>
<polygon points="301,196 304,194.5 306,197 303,199" fill="#1874cd"/>
<g fill="none" stroke="#000" stroke-width="3.5" stroke-linejoin="round" stroke-linecap="round">
<path d="M316.5,195.7 L934.3,195.7 L934.3,185.8 L942.2,185.8 L944.4,197.4 L946.6,203 L964.6,206.4 L966.8,209.8 L978,205.3 L989.9,208.5 L996,215.9 L1002.2,213.4 L1012.1,219.6 L1019.5,222.1 L1029.3,216.5 L1034.3,220.2 L1047.8,220.2 L1054,223.9 L1062,223.3 L1054,226.4 L1041.7,230.7 L1031.8,235.6 L1023.2,241.8 L1013.3,250.4 L1004.7,257.2 L997.9,260.9 L1007.1,260.3 L1017,256.6 L1029.3,252.9 L1031.8,259.1 L1029.3,262.8 L1036.7,262.8 L1045.4,262.8 L1054,256.6 L1063.9,254.1 L1073.7,249.2 L1082.4,243 L1087.3,239.3 L1093.5,238.1 L1100.2,239.3 L1099.6,241.8 L1091,244.3 L1086.1,250.4 L1083.6,257.8 L1087.3,254.1 L1093.5,252.9 L1100.9,255.4 L1105.8,261.5 L1109.5,265.2 L1115.7,265.2 L1123.1,267.7 L1128,262.8 L1140.3,260.3 L1152.6,259.1 L1162.5,258.4 L1162.5,264 L1169.9,266.5 L1177.3,268.9 L1181,276.3 L1186.7,279.5 L1185.4,281.5 L1176.4,280.4 L1169.7,281.5 L1164.5,284 L1169.7,286 L1178.7,290.5 L1187.6,295 L1196.6,299.5 L1200,306.2 L1197.7,315.2 L1196.6,324.2 L1192.1,333.1 L1186.5,337.6 L1185.4,342.1 L1189.9,346.6 L1196.6,339.9 L1205.6,334.3 L1212.3,335.4 L1215.7,342.1 L1216.8,355.6 L1217.5,366 L1217.5,375.3 L1214.8,372.6 L1209.4,374 L1208.1,380.7 L1202.7,384.7 L1201.3,391.5 L1196.6,398.2 L1200,400 L1205.6,403.5 L1212,406.5 L1217.5,406.9 L1226.9,404.9 L1235,403.6 L1243,396.8 L1251.1,394.1 L1259.2,392.8 L1270,387.4 L1280.7,382 L1288.8,376.7 L1296.8,371.3 L1298.9,368.6 L1295.5,364.6 L1294.1,357.8 L1296.8,355.1 L1307.6,353.1 L1321,353.8 L1327.8,357.2 L1341.2,355.8 L1348,352.5 L1356,347.7 L1357.4,341.7 L1356,336.3 L1354.7,332.3 L1361.4,328.2 L1366.8,324.2 L1369.5,320.2 L1376.2,313.4 L1381.6,309.4 L1388.3,306.7 L1400,307.4 L1462.4,306.4 L1463.6,301.5 L1468.5,299 L1475.9,296.5 L1483.3,289.1 L1489.5,276.8 L1493.2,269.4 L1495.7,259.5 L1503,249.7 L1510.4,241 L1515.4,238.6 L1520.3,244.7 L1530.2,242.3 L1537.6,242.3 L1546.2,249.7 L1547.4,262 L1547.4,289.1 L1553.7,292.1 L1554.7,300.2 L1558.8,302.2 L1563.8,306.2 L1562.8,312.3 L1555.7,316.3 L1546.7,319.3 L1540.6,324.4 L1534.6,322.4 L1528.5,325.4 L1523.5,320.3 L1519.4,324.4 L1513.4,334.5 L1508.3,336.5 L1496.2,340.5 L1490.2,345.6 L1483.1,355.6 L1480.9,363.1 L1480.3,363.4 L1477.7,370.1 L1481.7,373.5 L1478.3,377.5 L1473.6,381.5 L1476.3,384.9 L1481,386.9 L1483.7,391.6 L1486.4,396 L1491.1,397 L1495,396 L1496,393 L1493,391 L1491,389 L1494,387 L1498,389 L1500,394 L1499.5,400 L1497,403 L1493.8,403.5 L1487.1,402 L1481.7,403.5 L1477.7,405.7 L1473.6,404.8 L1469.6,406.4 L1465.6,408.4 L1460.2,409.1 L1456.8,411.1 L1446.3,410 L1431.5,412 L1416.7,416 L1411.8,419.8 L1409.4,424.2 L1408.4,431.7 L1408.4,442.4 L1405.7,453.2 L1402.2,459.5 L1397.7,464.8 L1393.2,470.2 L1388.7,476.5 L1384.2,482.8 L1382.4,490 L1381.2,498.9 L1375.1,509 L1369,519 L1365,527.1 L1363,531.2 L1364,537 L1365,543.6 L1368.5,554.5 L1372,566 L1374.5,579 L1362.5,584.3 L1352.6,591.7 L1350.2,596.6 L1337.9,599.1 L1328,604 L1320.6,613.9 L1313.2,617.6 L1305.8,617.6 L1298.4,621.3 L1291,631.1 L1283.6,641 L1273.7,650.9 L1261.4,658.3 L1254,665.7 L1249.1,670.6 L1253,673 L1250.9,677.2 L1246.2,683.5 L1243,689.9 L1240.5,696 L1239.9,704 L1241.5,713.5 L1244.6,730.4 L1249.1,746 L1254.7,761.7 L1260.3,779.7 L1265.9,795.4 L1271.5,811.1 L1272.6,824.5 L1271.5,842.5 L1268.2,851.4 L1263.7,858.2 L1256.9,862.6 L1250.2,862.6 L1248,858.2 L1243.5,849.2 L1239,844.7 L1234.5,840.2 L1230,826.8 L1225.6,820 L1222.2,814.4 L1216.6,806.6 L1213.2,797.6 L1214.3,788.7 L1209.9,784.2 L1212.1,775.2 L1214.3,764 L1212.1,755 L1205.4,748.3 L1198.7,741.6 L1194.2,734.8 L1185.2,725.9 L1178.5,724.8 L1171.7,730.4 L1162.8,734.8 L1153.8,736 L1151.6,732.6 L1144.8,720.3 L1133.6,714.7 L1122.4,713.5 L1111.2,714.7 L1101.8,718.9 L1096.8,718.9 L1093.7,706.8 L1089.7,716.9 L1084.7,714.9 L1075.6,714.9 L1065.5,716.9 L1059.4,720.9 L1062,724 L1067.5,725 L1061.5,733 L1057.4,741.1 L1059.4,749.2 L1063.5,755.2 L1069.5,752.2 L1065.5,749.2 L1057.4,745.1 L1049.3,743.1 L1045.3,749.2 L1037.2,748.2 L1027.1,751.2 L1019.1,743.1 L1011,735 L1004.9,733 L998.9,740.1 L990.8,739.1 L980.7,735 L968.6,735 L960.5,735 L957.5,738.5 L948.1,739.8 L940,745.2 L931.9,751.9 L923.8,760 L915.8,764 L909,768.1 L901,770.8 L894.2,774.8 L887.5,778.8 L882.1,786.9 L878.1,797.7 L879.4,805.8 L880.8,816.5 L884.8,827.3 L888.8,836.7 L887.8,839.6 L882.4,839.6 L868.1,837.8 L853.7,832.4 L843,823.4 L837.6,812.6 L835.8,796.5 L825,784 L814.3,766 L807.1,751.7 L798.1,739.1 L789.1,733.7 L774.8,731.9 L765.8,735.5 L760.4,748.1 L755.1,755.2 L746.1,753.5 L731.7,744.5 L722.8,733.7 L719.2,719.4 L710.2,708.6 L695.9,694.3 L684.6,683.7 L679.2,676.6 L677.4,676.6 L641.6,676.6 L641.6,689 L623.6,689 L577,689.5 L494.5,656.8 L496.3,651.5 L443.4,656.8 L439.8,649.7 L437.1,638.9 L428.1,630 L415.6,622.8 L410.2,615.6 L395.9,610.2 L386.9,603.9 L369,603 L364.5,595.9 L363.6,581.5 L360,575 L357.5,573.4 L349,565 L340.7,553.8 L335,545.4 L339.3,537 L333.7,532.7 L325.3,523 L323.9,511.7 L315.4,504.7 L311.2,499.1 L304.2,487.9 L295.8,478 L293,466.9 L291.6,455.7 L284.6,444.5 L280.4,434.7 L286,419 L287.4,408 L284.6,396.8 L281.8,391.2 L284,390 L281.5,382 L277.5,368.7 L281.5,350 L287,323 L289.6,296 L291,277 L291,274.5 L289.6,264 L287,253 L284,242 L276,223 L273.9,212.7 L280,215.5 L290,217.7 L302,218.3 L313.8,219.5 L316,210ZM1477.7,408 L1483,406.5 L1487,408 L1485,411.8 L1479,411ZM1491,409 L1496,408.4 L1499,411 L1496,413.8 L1492,412.5ZM1411.8,422.3 L1416.7,415 L1434,412.4 L1453.7,416.2 L1456,418 L1453.7,419.8 L1434,424.8 L1419.2,429.7 L1409.3,432.2Z"/>
<polyline points="445.4,195.7 445.4,279.4"/>
<polyline points="291.1,272.1 297.1,271.3 304,273 311.7,276.4 315.1,280.7 316,287.6 320.3,291 327.1,292.7 334.9,288.4 344.3,287.6 351.1,291 358.9,289.3 365.7,286.7 374.3,285.9 382.9,283.3 391.4,280.7 400,279.4 408.6,279.4 446.3,279.4"/>
<polyline points="446.3,279.4 450.6,283.3 455.7,285.9 458.3,289.3 456.6,293.6 454,299.6 451.4,305 449.3,308.1 444.2,314.1 440.2,322.2 440.2,327.2 445.2,329.3 446.2,333.3 444.9,340.4 444.9,391.2"/>
<polyline points="281.8,391.2 578.6,391.2"/>
<polyline points="378.5,391.2 378.5,475.5 498.6,586.4"/>
<polyline points="511.8,391.2 511.8,531"/>
<polyline points="511.8,531 511.8,555 499,558.5 497.6,576 498.6,586.4"/>
<polyline points="498.6,586.4 501.7,592.3 505.3,601.2 508.9,608.4 501.7,617.4 498.1,628.1 496.3,635.3 501.7,642.5 501.7,647.9 496.3,651.5"/>
<polyline points="466.8,195.7 466.8,224.5 472.3,230.8 473.8,238.7 480.1,243.4 486.4,249.6 492.7,257.5 499,261.4 505.2,261.4 502.1,274.8 502.1,284.2 500.5,290.5 505.2,294.4 513.1,288.1 517.8,292 520.9,303 525.6,309.3 530.3,312.4 536.6,323.4 544.5,321.1 557,319.5 568,317.9 571.9,314.8 578.6,320.3"/>
<polyline points="578.6,307.9 578.6,419.8"/>
<polyline points="578.6,307.9 734.8,307.9"/>
<polyline points="734.8,195.7 734.8,419.8"/>
<polyline points="734.8,281.5 902.9,281.5"/>
<polyline points="888.3,196 890.6,204.1 889.5,219.8 895.1,231.1 897.3,242.3 897.3,258 899.6,266.9 902.9,273.7 902.9,282.6 897.3,289.3 899.6,293.8 905.2,298.3 905.2,349.4"/>
<polyline points="734.8,363.9 859.5,363.9 869.6,370.6 878,367.3 888,367.3 898.2,372.3 903.5,376"/>
<polyline points="905.2,349.4 903.2,353.8 904.9,358.9 903.2,363.9 901.5,368.9 903.2,374 903.5,376"/>
<polyline points="903.5,376 904.9,377.4 908.6,387.3 913.5,398.3 917.2,409.4 918.4,419.3 918.4,426.7 923.3,436.6 929.5,444 934.4,450.1 939.4,450.1 939.4,455 935.7,460 940.6,464.9 946.8,471.1 946.8,531"/>
<polyline points="905.2,349.4 1020.6,349.4"/>
<polyline points="578.6,419.8 780.2,419.8"/>
<polyline points="623.5,419.8 623.5,689"/>
<polyline points="511.8,531 946.8,531"/>
<polyline points="780.2,419.8 780.2,531"/>
<polyline points="780.2,447.6 930,447.6"/>
<polyline points="758.5,531 758.5,672.5"/>
<polyline points="677.4,672.5 758.5,672.5"/>
<polyline points="758.5,545.5 825.6,545.5"/>
<polyline points="825.6,545.5 825.7,600 831.4,604.3 838.6,602.9 843.6,606.4 845,609.3 852.1,611.4 857.9,612.9 863.6,611.4 869.3,612.9 872.1,618.6 877.9,616.4 883.6,620 889.3,622.9 893.6,617.1 900.7,619.3 907.9,623.6 915,620 922.1,617.9 932.9,616.4 940,621.4 948.6,625.7 952.1,627.9 957.1,626.4 959.3,628.6"/>
<polyline points="946.8,531 949.6,570 950,590 948.6,625.7"/>
<polyline points="947,545.4 1046.6,545.4 1048,550 1041.2,557.7 1056.2,558.8"/>
<polyline points="921.5,430.8 1018.2,430.8"/>
<polyline points="959.3,628.6 959.5,671.5 964.6,678.5 969.6,694.7 967.6,708.8 964.6,727 960.5,735"/>
<polyline points="959.5,643.5 1022.4,643.5"/>
<polyline points="1020.6,348.8 1025.3,355.9 1024.1,362.9 1027.6,370 1034.7,373.5 1039.4,379.4 1044.1,386.5 1045.3,393.5 1039.4,402.9 1030,405.3 1025.3,410 1025.3,419.4 1021.8,426.5 1018.2,430 1015.9,435.9 1015.9,447.6 1020.6,457.1 1027.6,464.1 1033.5,471.2 1034.7,478.2 1041.8,480.6 1045.3,482.9 1044.1,490 1040.6,497.1 1046.5,504.1 1053.5,508.8 1059.4,515.9 1061.8,522.9 1065.3,530 1067.9,538.5 1060.4,544.9 1058.3,553.5 1056.2,562 1051.9,570.5 1046.6,576.9 1044.4,587.6 1039.1,594 1034.9,602.5 1028.5,611 1023.1,619.6 1022.1,630.2 1024.2,640.9 1025.3,649.4 1028.5,662.2 1024.2,670.7 1017.8,679.3 1013.5,692 1013.5,699.5"/>
<polyline points="1013.5,699.5 1056.2,699.5 1054,709.1 1056.2,716 1059.4,722.9"/>
<polyline points="1091.4,587.5 1089.2,615.3 1087.1,647.3 1085,679.3 1085,714"/>
<polyline points="1044.4,587.5 1199.7,587"/>
<polyline points="1147.3,587 1158.3,647.4 1163,663.2 1158.3,674.2 1159,697.7 1161,701 1163,705.5"/>
<polyline points="1104.4,699.3 1159.5,699.3"/>
<polyline points="1104.4,699 1104.4,716"/>
<polyline points="1163,705.5 1225.6,710.3 1225.6,716.5 1228.9,705.7 1239,705.7 1240.5,704"/>
<polyline points="1198.5,596.6 1209.6,604 1214.5,613.9 1224.4,626.2 1234.3,638.5 1241.7,653.3 1246.6,663.2 1250.3,669.4"/>
<polyline points="1198.5,596.6 1200.4,590.4 1204.4,586.3 1216.5,582.3 1227.3,581.6 1247.5,582.3 1254.2,587.7 1256.9,591.7 1267.7,592.4 1281.1,593 1303.3,617.6"/>
<polyline points="1177.5,587.5 1178.8,580.9 1184.2,575.6 1191,571.5 1200.4,567.5 1209.8,563.4 1216.5,559.4 1223.3,558.1 1230,555.4 1235.4,550 1235.4,543"/>
<polyline points="1060.4,545.4 1094.6,545.4 1094.6,541.5 1235.4,542.8 1363,543.6"/>
<polyline points="1191,541.9 1197.7,540.6 1204.4,536.5 1211.1,532.5 1217.9,525.8 1227.3,519 1230,519"/>
<polyline points="1230,519 1224.6,513.6 1219.2,506.9 1215.2,500.2 1213.8,490.8 1216.1,491.3"/>
<polyline points="1261.4,428.6 1257.8,430.4 1257,439.3 1256,448.3 1252.5,457.3 1248,461.7 1241.7,464.4 1234.5,470 1230.2,472.4 1223.1,481.9 1216.1,491.3 1209,486.6 1194.9,484.2 1183.1,479.5 1176,474.8 1166.6,472.4 1164.2,479.5 1154.8,484.2 1150.1,488.9 1145.4,496 1138.3,500.7 1131.3,498.3 1124.2,503 1112.4,505.4 1102.9,504.1 1091.2,508.8 1086.5,515.9 1079.4,522.9 1072.4,525.3 1067.6,530 1065.3,531"/>
<polyline points="1261.4,392.7 1261.4,455.7"/>
<polyline points="1261.4,455.7 1368.5,455.7 1371.7,457.7"/>
<polyline points="1104.6,398.2 1104.6,478.2 1102.9,485.3 1098.2,494.7 1093.5,501.8 1091.2,508.8"/>
<polyline points="1166.1,398.2 1166.1,472.4"/>
<polyline points="1106.5,398.2 1196.6,398.2"/>
<polyline points="1040.6,378.2 1099.4,378.2"/>
<polyline points="997.9,260.9 997.3,268.9 998.5,276.3 989.9,281.3 983.7,287.4 986.2,292.4 989.3,302.8 987.6,316.3 997.7,321.3 1014.5,329.7 1021.3,339.8 1021.3,349.2"/>
<polyline points="1031,261 1047,270.2 1066.3,276.3 1078.7,278.8 1088.5,281.3 1097.2,286.2 1098.4,296.1 1100.5,303"/>
<polyline points="1278,386 1278,391.9 1377.5,391.9 1383,396.8 1384.3,403.6 1389.5,408.5"/>
<polyline points="1389.5,408.5 1409,419"/>
<polyline points="1389.5,408.5 1384.7,419.8 1382.4,422.7 1383.3,429.9 1386.9,436.1 1391.4,441.5 1388.7,445.1 1381.5,450.5 1375.2,454.1 1371.7,457.7"/>
<polyline points="1388.7,476.5 1386,472 1378,468.4 1373.5,463 1371.7,457.7 1373.5,464.8 1377,471.1 1380.6,477.4 1384.2,482.8"/>
<polyline points="1421.7,307 1420.4,325 1422.5,335 1420.4,345.9 1421.5,360 1424.1,370.5"/>
<polyline points="1463.6,303 1461.1,316.3 1453.7,326.1 1448.8,336 1445.1,348.3 1441.4,360.6 1440.2,370.5"/>
<polyline points="1472.2,299 1475.9,353.3 1480.3,363.4"/>
<polyline points="1424.1,371 1468.2,370.8 1475,367.4 1480.3,363.4"/>
<polyline points="1424.1,370.5 1419.2,390.2 1416.7,412.4"/>
<polyline points="1419.2,390.2 1466.9,390.2"/>
<polyline points="1456.8,390.2 1456.8,411.1"/>
<polyline points="1466.9,390.2 1468,396 1469,402"/>
<polyline points="1368.5,455.7 1368.5,490 1382.4,490"/>
<polyline points="1284.7,455.7 1284.7,470.2"/>
<polyline points="1284.7,470.2 1290.3,466.2 1295.3,462.2 1300.4,458.1 1304.4,457.1 1308.4,460.1 1313.5,464.2 1318.5,468.2 1322.6,470.2 1328.6,472.2 1334.7,475.3 1340.7,478.3 1338.7,483.3 1333.7,489.4 1336.7,493.4 1342.7,497.5 1345.8,505.5 1347.8,515.6 1353,521.2 1353,529.3"/>
<polyline points="1310,461 1308.4,465.2 1306.4,471.2 1300.4,477.3 1295.3,481.3 1290.3,489.4 1285.2,491.4 1280,489.4 1277.1,497.5 1273,506.9 1267.7,515 1262.3,519 1254.2,520.4 1247.5,521.7 1240.8,524.4 1235.4,524.4 1230,519"/>
<polyline points="1365,455 1360,462 1354,468 1350,473 1352,482 1355,492 1358,503 1355,514 1351,524 1351,533" stroke-width="7"/>
<polyline points="1369,460 1366,470 1364,480 1366,494 1366,503 1364,514 1362,525 1360,532" stroke-width="6.5"/>
<polyline points="1332,490 1341,498 1346,505 1352,508" stroke-width="5"/>
<polyline points="1338,509 1346,514 1352,518" stroke-width="5"/>
<polyline points="1340,523 1346,527 1351,530" stroke-width="5"/>
<polyline points="1343,478 1349,478 1352,482" stroke-width="3.5"/>
<polyline points="1346,486 1352,488" stroke-width="4"/>
<polyline points="1344,533 1351,536" stroke-width="4"/>
<polyline points="1358,470 1361,478 1358,488" stroke-width="3.5"/>
<polyline points="1059,721 1055.4,720.9 1045.3,716.9 1041.3,718.9 1043.3,725 1053.4,725 1061.5,729" stroke-width="3"/>
<polyline points="1211,784 1214,788" stroke-width="6"/>
<polyline points="1221,812 1224,815" stroke-width="5"/>
<polyline points="1462,405 1468,401.5 1475,403 1482,402 1486,400" stroke-width="4.5"/>
<polyline points="1104,320 1108,310 1113,300 1118,291 1123,284" stroke-width="4"/>
<polyline points="1484,354 1490,347 1497,342 1508,338 1514,335 1520,326 1524,322 1529,326 1535,323.5 1541,325.5 1547,320.5 1556,317.5 1563,313.5" stroke-width="4.5"/>
<polyline points="937,733 941,736 944,741" stroke-width="6"/>
<polyline points="900,762 905,764 910,766" stroke-width="5"/>
<polyline points="880,786 886,787" stroke-width="4"/>
<polyline points="874,798 878,803" stroke-width="4"/>
<polyline points="1346.7,530 1354,532 1362.4,534.7" stroke-width="5"/>
<polyline points="1345.9,550.4 1345.9,561 1355.3,559.8 1364,558.3" stroke-width="4.5"/>
<polyline points="1357.7,552 1362,556 1367.1,559.8 1364,569.2 1359.2,567.7" stroke-width="4.5"/>
<polyline points="1339.6,574 1351.4,574 1360.8,575.5 1368.7,570.8" stroke-width="5"/>
<polyline points="1338,584.2 1344,588 1349.8,591.2 1355.3,588.1" stroke-width="5"/>
<polyline points="1330.2,594.4 1338,596.7" stroke-width="4"/>
</g>
<polygon points="1148,303 1152,301.5 1154,306 1153,313 1150,315.5 1147.5,311" fill="#000"/>
<polygon points="322,498 327,497 331,502 334.5,510 334,518 330,520 327,514 323,508" fill="#000"/>
<polygon points="1490,388 1495,386.5 1499,390 1500,396 1499,402 1494,404 1492,400 1496,396 1495,392 1491,391" fill="#000"/>
<polygon points="307,196 316,194 323,198 326,206 330,214 331,222 330,230 330,238 328,246 322,251 314,252 309,247 308,238 312,232 316,226 314,220 308,214 306,205" fill="#000"/>
<polygon points="1519.5,327.5 1527,328 1537,326.5 1537.6,330 1530,334 1522,335.5 1518.5,332" fill="#1874cd"/>
<polygon points="1511,339 1514,338 1515,341 1512,341.5" fill="#1874cd"/>
<polygon points="315,203 320,201.5 322,207 317,209" fill="#1874cd"/>
<polygon points="313,236 319,234 321,240 315,243" fill="#1874cd"/>
<polygon points="320,219 324,218 325,225 321,227" fill="#1874cd"/>
</svg>
</body></html>
